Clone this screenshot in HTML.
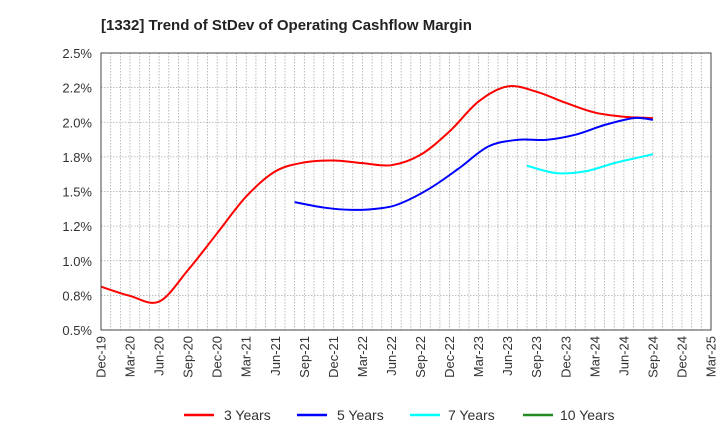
<!DOCTYPE html>
<html><head><meta charset="utf-8"><style>
body{margin:0;background:#fff;}
svg{display:block;font-family:"Liberation Sans",sans-serif;}
</style></head><body>
<svg width="720" height="440" xmlns="http://www.w3.org/2000/svg">
<rect width="720" height="440" fill="#fff"/>
<text x="101" y="30" font-size="15" font-weight="bold" fill="#222">[1332]  Trend of StDev of Operating Cashflow Margin</text>
<rect x="101" y="53" width="610" height="277" fill="#fff"/>
<g id="grid"></g>
<g id="series"></g>
<rect x="101" y="53" width="610" height="277" fill="none" stroke="#444" stroke-width="1"/>
<g id="axes"></g>
<g font-size="14" fill="#333">
<g><line x1="184" y1="415" x2="214" y2="415" stroke="#f00" stroke-width="2.5"/><text x="224" y="420">3 Years</text></g>
<g><line x1="297" y1="415" x2="327" y2="415" stroke="#00f" stroke-width="2.5"/><text x="337" y="420">5 Years</text></g>
<g><line x1="410" y1="415" x2="440" y2="415" stroke="#0ff" stroke-width="2.5"/><text x="448" y="420">7 Years</text></g>
<g><line x1="523" y1="415" x2="553" y2="415" stroke="#228b22" stroke-width="2.5"/><text x="560" y="420">10 Years</text></g>
</g>
</svg>
<script>
const xLabels=["Dec-19","Mar-20","Jun-20","Sep-20","Dec-20","Mar-21","Jun-21","Sep-21","Dec-21","Mar-22","Jun-22","Sep-22","Dec-22","Mar-23","Jun-23","Sep-23","Dec-23","Mar-24","Jun-24","Sep-24","Dec-24","Mar-25"];
const yTicks=[0.5,0.75,1.0,1.25,1.5,1.75,2.0,2.25,2.5];
const yTickLabels=["0.5%","0.8%","1.0%","1.2%","1.5%","1.8%","2.0%","2.2%","2.5%"];
// month index from Dec-19
const s3Months=[0,3,6,9,12,15,18,21,24,27,30,33,36,39,42,45,48,51,54,57];
const s3Values=[0.813,0.746,0.705,0.934,1.199,1.464,1.645,1.71,1.724,1.705,1.69,1.765,1.934,2.15,2.259,2.22,2.14,2.07,2.04,2.03];
const s5Months=[20,23,26,29,31,34,37,40,43,46,49,52,55,57];
const s5Values=[1.423,1.384,1.367,1.38,1.416,1.524,1.669,1.825,1.873,1.873,1.91,1.98,2.03,2.018];
const s7Months=[44,47,50,53,56,57];
const s7Values=[1.686,1.633,1.645,1.705,1.753,1.77];
const s10Months=[];
const s10Values=[];
const L=101,R=711,T=53,B=330;
const x=m=>L+(R-L)*m/63;
const y=v=>B-(v-0.5)/2.0*(B-T);
const NS="http://www.w3.org/2000/svg";
function mk(tag,attrs,parent){const e=document.createElementNS(NS,tag);for(const k in attrs)e.setAttribute(k,attrs[k]);parent.appendChild(e);return e;}
const grid=document.getElementById('grid'),axes=document.getElementById('axes'),series=document.getElementById('series');
for(let m=1;m<63;m++){const l=mk('line',{x1:x(m),x2:x(m),y1:T,y2:B,stroke:'#aaa','stroke-width':0.8,'stroke-dasharray':'1.5,1.5'},grid);

}
yTicks.forEach((v,i)=>{const l=mk('line',{x1:L,x2:R,y1:y(v),y2:y(v),stroke:'#aaa','stroke-width':0.8,'stroke-dasharray':'1.5,1.5'},grid);


const t=mk('text',{x:92,y:y(v)+5,'text-anchor':'end','font-size':13,fill:'#333'},axes);t.textContent=yTickLabels[i];

});
xLabels.forEach((s,i)=>{const px=x(i*3);const t=mk('text',{x:0,y:0,transform:`translate(${px+4.5},336) rotate(-90)`,'text-anchor':'end','font-size':13,fill:'#333'},axes);t.textContent=s;

});
function path(ms,vs){const p=ms.map((m,i)=>[x(m),y(vs[i])]);if(p.length<2)return '';let d=`M${p[0][0]},${p[0][1]}`;
for(let i=0;i<p.length-1;i++){const p0=p[i-1]||p[i],p1=p[i],p2=p[i+1],p3=p[i+2]||p2;
d+=` C${p1[0]+(p2[0]-p0[0])/6},${p1[1]+(p2[1]-p0[1])/6} ${p2[0]-(p3[0]-p1[0])/6},${p2[1]-(p3[1]-p1[1])/6} ${p2[0]},${p2[1]}`;}return d;}
[[s3Months,s3Values,'#f00','series-3-years'],[s5Months,s5Values,'#00f','series-5-years'],[s7Months,s7Values,'#0ff','series-7-years'],[s10Months,s10Values,'#228b22','series-10-years']].forEach(([ms,vs,c,n])=>{
const d=path(ms,vs);if(!d)return;const p=mk('path',{d:d,fill:'none',stroke:c,'stroke-width':2},series);

});
</script>
</body></html>
